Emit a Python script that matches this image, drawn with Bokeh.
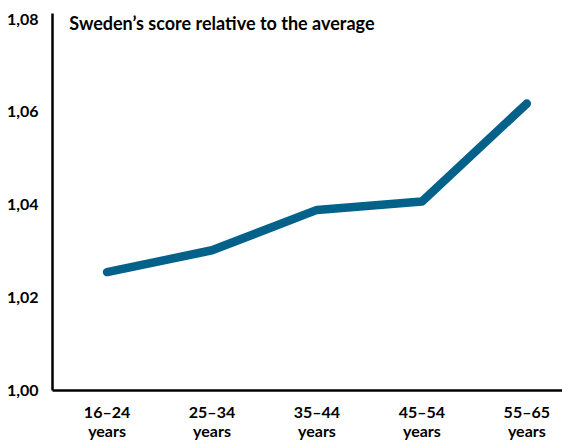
from bokeh.plotting import figure
from bokeh.models import FixedTicker, Range1d, Label, ColumnDataSource
from bokeh.embed import file_html
from bokeh.resources import INLINE

age_groups = ["16–24\nyears", "25–34\nyears", "35–44\nyears", "45–54\nyears", "55–65\nyears"]
scores = [1.0255, 1.0302, 1.0389, 1.0407, 1.0618]
y_ticks = [1.00, 1.02, 1.04, 1.06, 1.08]
y_tick_labels = ["1,00", "1,02", "1,04", "1,06", "1,08"]
title_text = "Sweden’s score relative to the average"

FONT = "Lato"
COLOR = "#03618a"

xs = list(range(len(age_groups)))
src = ColumnDataSource(dict(x=xs, y=scores))

p = figure(width=562, height=442, output_backend="svg", toolbar_location=None,
           x_range=Range1d(-0.52, 4.34), y_range=Range1d(1.0, 1.0812),
           min_border_left=52, min_border_right=0, min_border_top=13, min_border_bottom=50)
p.outline_line_color = None
p.xgrid.grid_line_color = None
p.ygrid.grid_line_color = None

p.line("x", "y", source=src, line_width=8.5, line_color=COLOR, line_cap="round", line_join="round")

p.yaxis.ticker = FixedTicker(ticks=y_ticks)
p.yaxis.major_label_overrides = {t: l for t, l in zip(y_ticks, y_tick_labels)}
p.xaxis.ticker = FixedTicker(ticks=xs)
p.xaxis.major_label_overrides = {x: l for x, l in zip(xs, age_groups)}

for ax in (p.xaxis[0], p.yaxis[0]):
    ax.axis_line_width = 2.5
    ax.axis_line_color = "black"
    ax.major_tick_line_color = None
    ax.minor_tick_line_color = None
    ax.major_label_text_font = FONT
    ax.major_label_text_font_style = "bold"
    ax.major_label_text_font_size = "16px"
    ax.major_label_text_color = "black"

p.yaxis.major_label_standoff = 8
p.xaxis.major_label_standoff = 5
p.xaxis.major_label_text_line_height = 1.0

p.add_layout(Label(x=-0.36, y=1.0791, text=title_text, text_font=FONT, text_font_style="bold",
                   text_font_size="18px", text_baseline="middle", text_color="black"))

open("out.html", "w").write(file_html(p, INLINE))
